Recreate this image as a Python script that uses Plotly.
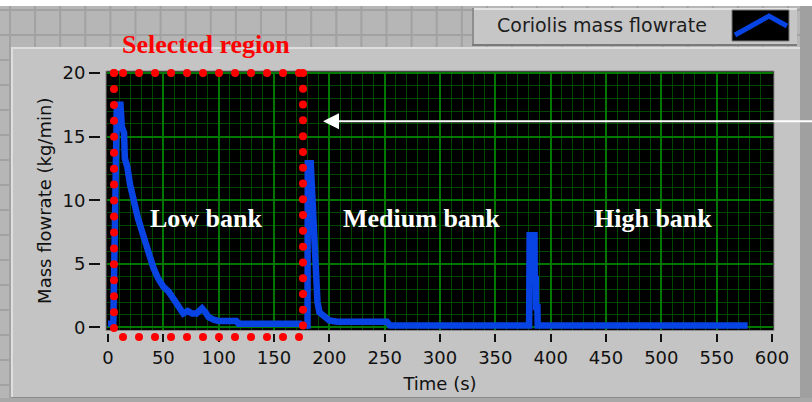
import plotly.graph_objects as go
import numpy as np

# ---------------- data ----------------
time_s = [0, 4.8, 8, 11.3, 12.5, 14.5, 15.2, 17.5, 20, 23, 27, 32, 36, 41, 45, 50, 55,
          59, 64, 66, 68, 72, 76, 80, 85, 88, 91, 96, 100, 116, 118, 174, 176,
          180.3, 180.5, 183.2, 184.2, 185.5, 186.6, 187.5, 188.3, 189.3, 191, 195.5,
          200, 207, 252, 255,
          380.5, 381, 385.4, 385.6, 386.6, 386.8, 388, 388.3, 578]
flow_kg_min = [0.3, 0.3, 17.5, 17.5, 15.8, 15.3, 13.3, 12.6, 11.2, 10.0, 8.6, 7.2, 6.0, 4.7, 3.9, 3.2, 2.8,
               2.2, 1.5, 1.3, 1.1, 1.3, 1.1, 1.1, 1.5, 1.2, 0.8, 0.6, 0.5, 0.5, 0.3, 0.3, 0.15,
               0.15, 12.9, 12.9, 10.6, 7.9, 6.1, 5.0, 3.8, 2.0, 1.2, 0.8,
               0.55, 0.45, 0.45, 0.15,
               0.15, 7.25, 7.25, 3.8, 3.8, 1.6, 1.6, 0.15, 0.15]

x_tick_values = list(range(0, 601, 50))
y_tick_values = [0, 5, 10, 15, 20]
series_name = "Coriolis mass flowrate"
x_title = "Time (s)"
y_title = "Mass flowrate (kg/min)"
region_labels = ["Low bank", "Medium bank", "High bank"]
selected_label = "Selected region"

# ---------------- styling / geometry ----------------
W, H = 812, 402
L, R, T, B = 100, 39, 72, 69
PW, PH = W - L - R, H - T - B

def px(xp):
    return (xp - L) / PW

def py(yp):
    return (H - B - yp) / PH

BLUE = "#0844E4"
MAJOR_GRID = "#007800"
MINOR_GRID = "#004800"
PANEL = "#c4c4c4"
TICK_FONT = dict(family="DejaVu Sans", size=18, color="#111111")
LABEL_FONT = dict(family="Liberation Serif", size=26, color="white")

fig = go.Figure()

fig.add_trace(go.Scatter(
    x=time_s, y=flow_kg_min, mode="lines", name=series_name,
    line=dict(color=BLUE, width=6.5), showlegend=False,
))

# red dotted "selected region" frame (decoration)
sel_left, sel_right = 5.4, 176.2
sel_top, sel_bottom = 20.0, -0.05
dots_x = ([sel_left] + list(np.linspace(13.6, 172.6, 12))          # top row
          + [sel_left] * 17                                          # left column
          + [sel_right] * 17)                                        # right column
dots_y = ([sel_top] * 13
          + list(np.linspace(sel_top, sel_bottom, 17))
          + list(np.linspace(sel_top, 0.15, 17)))
fig.add_trace(go.Scatter(
    x=dots_x, y=dots_y, mode="markers", showlegend=False, hoverinfo="skip",
    marker=dict(color="#ff0000", size=8), cliponaxis=False,
))

shapes = []
# page background grid (LabVIEW front panel)
k = 0
while 10 + 25.1 * k < W:
    xx = 10 + 25.1 * k
    shapes.append(dict(type="line", xref="paper", yref="paper", layer="below",
                       x0=px(xx), x1=px(xx), y0=py(0), y1=py(H),
                       line=dict(color="#a2a2a2", width=2)))
    k += 1
k = 0
while 10 + 25 * k < H:
    yy = 10 + 25 * k
    shapes.append(dict(type="line", xref="paper", yref="paper", layer="below",
                       x0=px(0), x1=px(W), y0=py(yy), y1=py(yy),
                       line=dict(color="#a2a2a2", width=2)))
    k += 1

def rect(x0, y0, x1, y1, fill, line_color=None, lw=0, layer="below"):
    d = dict(type="rect", xref="paper", yref="paper", layer=layer,
             x0=px(x0), x1=px(x1), y0=py(y0), y1=py(y1), fillcolor=fill,
             line=dict(width=lw, color=line_color or fill))
    shapes.append(d)

def hline(x0, x1, y, color, w=2, layer="below"):
    shapes.append(dict(type="line", xref="paper", yref="paper", layer=layer,
                       x0=px(x0), x1=px(x1), y0=py(y), y1=py(y), line=dict(color=color, width=w)))

def vline(x, y0, y1, color, w=2, layer="below"):
    shapes.append(dict(type="line", xref="paper", yref="paper", layer=layer,
                       x0=px(x), x1=px(x), y0=py(y0), y1=py(y1), line=dict(color=color, width=w)))

rect(0, 0, W, 6, "#ffffff")
rect(11, 47, 800, 398, PANEL)
hline(11, 800, 48, "#dedede")
vline(12, 47, 398, "#dedede")
hline(11, 800, 398, "#8c8c8c")
rect(800, 6, W, H, "#a0a0a0")
rect(0, 398, W, H, "#a8a8a8")

# plot area (black) with frame
rect(106, 71, 774, 330.5, "#000000", "#8a8a8a", 1)

# bottom row of the red dotted frame (below the axis, so drawn as page shapes)
for xp in np.linspace(123, 299, 12):
    shapes.append(dict(type="circle", xref="paper", yref="paper", layer="above",
                       x0=px(xp - 4), x1=px(xp + 4), y0=py(337 - 4), y1=py(337 + 4),
                       fillcolor="#ff0000", line=dict(width=0)))

# manual legend box
rect(472, 8, 797, 45, "#c6c6c6")
hline(472, 797, 9, "#e4e4e4")
vline(473, 8, 45, "#8e8e8e")
hline(472, 797, 45, "#7a7a7a")
rect(732, 10, 789, 41, "#000000", "#777777", 1)
shapes.append(dict(type="path", xref="paper", yref="paper", layer="above",
                   path="M {},{} L {},{} L {},{}".format(px(735), py(35), px(769), py(16),
                                                         px(787), py(26)),
                   line=dict(color=BLUE, width=5)))

annotations = [
    dict(text=series_name, xref="paper", yref="paper", x=px(495), y=py(25),
         xanchor="left", yanchor="middle", showarrow=False,
         font=dict(family="DejaVu Sans", size=19, color="#1e1e1e")),
    dict(text="<b>%s</b>" % selected_label, x=px(206), y=py(44), xref="paper", yref="paper",
         xanchor="center", yanchor="middle",
         showarrow=False, font=dict(family="Liberation Serif", size=26, color="#ff0000")),
    dict(text="<b>%s</b>" % region_labels[0], x=88.6, y=8.6, showarrow=False, font=LABEL_FONT),
    dict(text="<b>%s</b>" % region_labels[1], x=283.3, y=8.6, showarrow=False, font=LABEL_FONT),
    dict(text="<b>%s</b>" % region_labels[2], x=492.5, y=8.6, showarrow=False, font=LABEL_FONT),
    dict(text="", x=194.3, y=16.2, ax=640, ay=16.2, axref="x", ayref="y",
         showarrow=True, arrowhead=2, arrowsize=1.6, arrowwidth=2, arrowcolor="white",
         standoff=0),
]

fig.update_layout(
    width=W, height=H,
    margin=dict(l=L, r=R, t=T, b=B, autoexpand=False),
    paper_bgcolor="#b6b6b6",
    plot_bgcolor="#000000",
    shapes=shapes,
    annotations=annotations,
    showlegend=False,
    xaxis=dict(
        domain=[7 / PW, 1], range=[-0.9, 600.9], anchor="free", position=0,
        tickmode="array", tickvals=x_tick_values,
        ticks="outside", ticklen=8, tickwidth=1.5, tickcolor="#111111",
        showgrid=True, gridcolor=MAJOR_GRID, gridwidth=1.5,
        minor=dict(dtick=10, tick0=0, showgrid=True, gridcolor=MINOR_GRID, gridwidth=1, ticks=""),
        zeroline=False, showline=False, tickfont=TICK_FONT,
        title=dict(text=x_title, font=TICK_FONT, standoff=10),
        automargin=False, fixedrange=True,
    ),
    yaxis=dict(
        domain=[3.5 / PH, 1], range=[-0.16, 20.08], anchor="free", position=0,
        tickmode="array", tickvals=y_tick_values,
        ticks="outside", ticklen=11, tickwidth=1.5, tickcolor="#111111",
        showgrid=True, gridcolor=MAJOR_GRID, gridwidth=1.5,
        minor=dict(dtick=1, tick0=0, showgrid=True, gridcolor=MINOR_GRID, gridwidth=1, ticks=""),
        zeroline=False, showline=False, tickfont=TICK_FONT,
        title=dict(text=y_title, font=TICK_FONT, standoff=5),
        automargin=False, fixedrange=True,
    ),
)

fig.write_html("out.html", config={"displayModeBar": False})
